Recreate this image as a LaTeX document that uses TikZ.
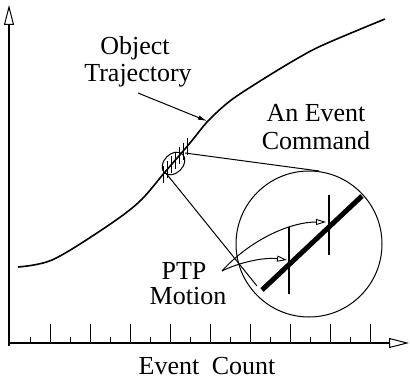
\documentclass[tikz,border=0pt]{standalone}
\usepackage{fontspec}
\setmainfont{Liberation Serif}
\usetikzlibrary{arrows.meta}
\begin{document}
\begin{tikzpicture}[x=1pt,y=-1pt,
  lbl/.style={font=\fontsize{26}{28}\selectfont, inner sep=0pt, anchor=base},
  axis/.style={line width=1.1pt, -{Triangle[open,length=20pt,width=10pt,line width=1pt]}},
  tick/.style={line width=1pt},
  curve/.style={line width=1.6pt},
  thinline/.style={line width=1pt},
  ptparrow/.style={line width=1pt, -{Triangle[open,length=10pt,width=6pt,line width=0.9pt]}},
  objarrow/.style={line width=1pt, -{Latex[length=9pt,width=4.5pt]}}]
\useasboundingbox (0,0) rectangle (410,385);
% axes
\coordinate (O) at (9,343);
\coordinate (ybot) at (9,346);
\coordinate (yend) at (9,5);
\coordinate (xend) at (409,343);
\draw[axis] (ybot) -- (yend);
\draw[axis] (O) -- (xend);
\foreach \x in {50,90,...,370} \draw[tick] (\x,343) -- (\x,324);
\foreach \x in {30,70,...,350} \draw[tick] (\x,343) -- (\x,337);
% trajectory
\draw[curve] plot[smooth, tension=0.55] coordinates {(18,267) (52,260) (100,231) (138,203) (165,172) (190,143) (208,121) (230,101) (257,83) (293,61) (323,45) (385,19)};
% hatching
\foreach \x/\y in {163/174.3,167/169.7,171/165,175/160.4,179/155.8,183/151.1,187/146.5}
  \draw[thinline] (\x,\y-8.5) -- (\x,\y+8.5);
% small ellipse
\coordinate (sc) at (173.5,163.5);
\draw[thinline] (sc) ellipse [x radius=13, y radius=9.5, rotate=45];
% big circle
\coordinate (bc) at (309,244);
\draw[thinline] (bc) circle [radius=73];
% tangent lines
\coordinate (sa) at (185,153);
\coordinate (ta) at (319,171);
\coordinate (sb) at (165,172);
\coordinate (tb) at (257,286);
\draw[thinline] (sa) -- (ta);
\draw[thinline] (sb) -- (tb);
% inside circle
\coordinate (t1) at (262,290);
\coordinate (t2) at (362,196);
\draw[line width=5pt] (t1) -- (t2);
\coordinate (v1a) at (289,227);
\coordinate (v1b) at (289,294);
\coordinate (v2a) at (329,195);
\coordinate (v2b) at (329,255);
\draw[line width=1.2pt] (v1a) -- (v1b);
\draw[line width=1.2pt] (v2a) -- (v2b);
% labels
\node[lbl] (obj1) at (135,55) {Object};
\node[lbl] (obj2) at (138,82) {Trajectory};
\node[lbl] (ev1) at (316,122) {An Event};
\node[lbl] (ev2) at (316,150) {Command};
\node[lbl] (ptp1) at (184,279) {PTP};
\node[lbl] (ptp2) at (188,304) {Motion};
\node[lbl] (xl) at (207,374) {Event\hspace{6pt} Count};
% arrows
\coordinate (oa) at (138,93);
\coordinate (ob) at (207,121);
\draw[objarrow] (oa) -- (ob);
\coordinate (ps) at (222,271);
\coordinate (pu) at (326,222);
\coordinate (pl) at (287,260);
\draw[ptparrow] (ps) .. controls (250,240) and (290,222) .. (pu);
\draw[ptparrow] (ps) .. controls (240,262) and (265,257) .. (pl);
\end{tikzpicture}
\end{document}
